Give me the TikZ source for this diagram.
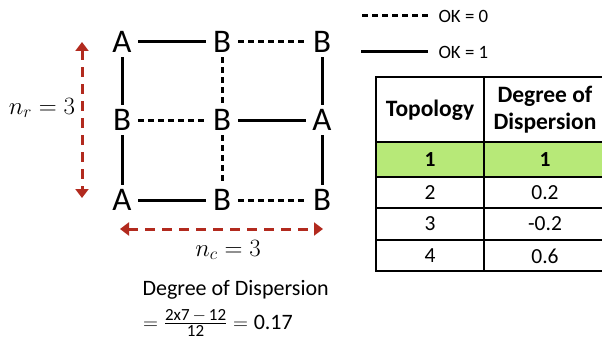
\documentclass[tikz,border=0pt]{standalone}
\usepackage{amsmath}
\usepackage{fontspec}
\setmainfont{Carlito}
\usepackage{xcolor}
\usepackage{tikz}
\usetikzlibrary{arrows.meta,positioning}
\definecolor{darkred}{RGB}{178,42,30}
\definecolor{lightgreen}{RGB}{183,233,120}
\tikzset{site/.style={minimum width=32pt,minimum height=30pt,inner sep=0pt,font=\fontsize{33}{33}\selectfont},
  ok/.style={line width=3pt},
  notok/.style={line width=3pt,dash pattern=on 6pt off 4pt},
  span/.style={darkred,line width=3pt,dash pattern=on 10pt off 7pt,{Triangle[width=13pt,length=9pt]}-{Triangle[width=13pt,length=9pt]}},
  cell/.style={font=\fontsize{21.5}{23}\selectfont,align=center},
  head/.style={font=\bfseries\fontsize{23.5}{27}\selectfont,align=center}}

\begin{document}
\begin{tikzpicture}[x=1pt,y=-1pt]
    \useasboundingbox (0,0) rectangle (602,345);
    \clip (0,0) rectangle (602,345);

    % grid of sites
    \node[site] (a) at (122,42) {A};
    \node[site] (b) at (222,42) {B};
    \node[site] (c) at (322,42) {B};
    \node[site] (d) at (122,120) {B};
    \node[site] (e) at (222,120) {B};
    \node[site] (f) at (322,120) {A};
    \node[site] (g) at (122,200) {A};
    \node[site] (h) at (222,200) {B};
    \node[site] (i) at (322,200) {B};

    \draw [ok] (a) to (b);
    \draw [notok] (b) to (c);
    \draw [ok] (a) to (d);
    \draw [notok] (b) to (e);
    \draw [ok] (c) to (f);
    \draw [notok] (d) to (e);
    \draw [ok] (e) to (f);
    \draw [ok] (d) to (g);
    \draw [notok] (e) to (h);
    \draw [ok] (f) to (i);
    \draw [ok] (g) to (h);
    \draw [notok] (h) to (i);

    % size arrows
    \coordinate (rtop) at (82,42);
    \coordinate (rbot) at (82,198);
    \coordinate (cleft) at (120,229);
    \coordinate (cright) at (323,229);
    \draw [span] (rtop) to (rbot);
    \draw [span] (cleft) to (cright);
    \node[font=\fontsize{24}{24}\selectfont] (nr) at (42,108) {$n_r = 3$};
    \node[font=\fontsize{24}{24}\selectfont] (nc) at (228,250) {$n_c = 3$};

    % legend
    \coordinate (l0a) at (362,16);
    \coordinate (l0b) at (428,16);
    \coordinate (l1a) at (361,52);
    \coordinate (l1b) at (428,52);
    \draw [notok] (l0a) to (l0b);
    \draw [ok] (l1a) to (l1b);
    \node[anchor=west,font=\fontsize{18.8}{19}\selectfont] (k0) at (435,16) {OK = 0};
    \node[anchor=west,font=\fontsize{18.8}{19}\selectfont] (k1) at (435,52) {OK = 1};

    % table
    \fill [lightgreen] (376,142) rectangle (610,177);
    \draw [line width=1.2pt] (376,77) rectangle (610,271);
    \draw [line width=1.2pt] (484,77) -- (484,271);
    \foreach \y in {142,177,208,240}
        \draw [line width=1.2pt] (376,\y) -- (610,\y);
    \node[head] (th1) at (430,110) {Topology};
    \node[head] (th2) at (545,110) {Degree of\\Dispersion};
    \node[cell,font=\bfseries\fontsize{21.5}{23}\selectfont] (t1) at (430,160) {1};
    \node[cell,font=\bfseries\fontsize{21.5}{23}\selectfont] (v1) at (545,160) {1};
    \node[cell] (t2) at (430,193) {2};
    \node[cell] (v2) at (545,193) {0.2};
    \node[cell] (t3) at (430,224) {3};
    \node[cell] (v3) at (545,224) {-0.2};
    \node[cell] (t4) at (430,256) {4};
    \node[cell] (v4) at (545,256) {0.6};

    % formula
    \node[anchor=west,font=\fontsize{22}{22}\selectfont] (dd) at (139,290) {Degree of Dispersion};
    \node[anchor=west,font=\fontsize{22}{22}\selectfont,inner sep=0pt] (eq) at (143,323)
        {$=\frac{\text{\fontsize{17}{17}\selectfont 2x7$\,-\,$12}}{\text{\fontsize{17}{17}\selectfont 12}}=\text{0.17}$};
\end{tikzpicture}
\end{document}
